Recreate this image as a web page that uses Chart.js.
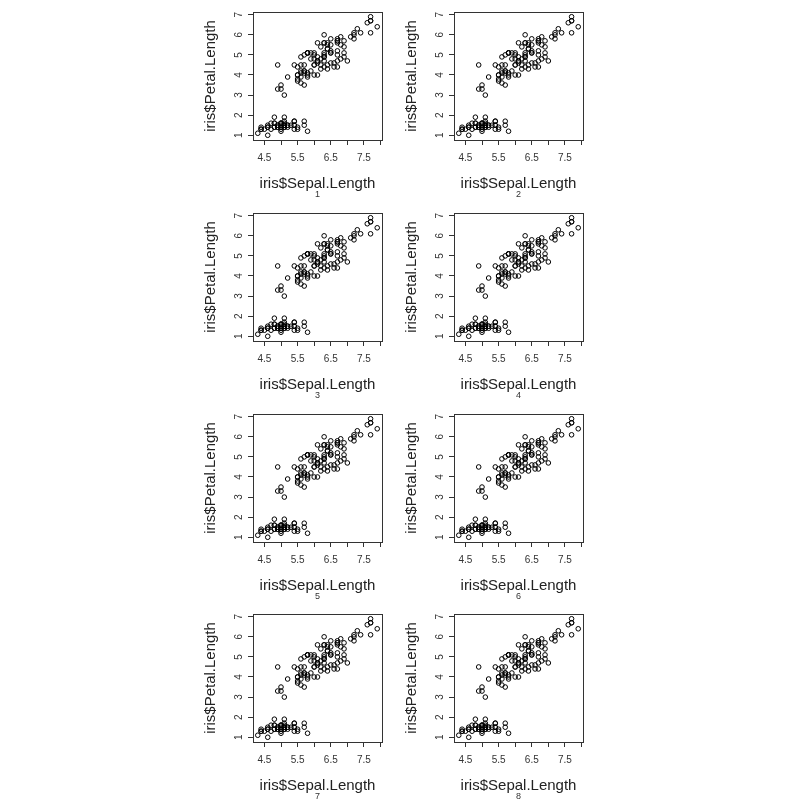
<!DOCTYPE html>
<html>
<head>
<meta charset="utf-8">
<script src="https://cdn.jsdelivr.net/npm/chart.js@4.4.1/dist/chart.umd.min.js"></script>
<style>
body { margin: 0; background: #fff; }
#wrap { position: relative; width: 800px; height: 803px; overflow: hidden; }
#wrap canvas { position: absolute; }
</style>
</head>
<body>
<div id="wrap"></div>
<script>
const sepalLength = [
  5.1,4.9,4.7,4.6,5.0,5.4,4.6,5.0,4.4,4.9,5.4,4.8,4.8,4.3,5.8,5.7,5.4,5.1,5.7,5.1,5.4,5.1,4.6,5.1,4.8,
  5.0,5.0,5.2,5.2,4.7,4.8,5.4,5.2,5.5,4.9,5.0,5.5,4.9,4.4,5.1,5.0,4.5,4.4,5.0,5.1,4.8,5.1,4.6,5.3,5.0,
  7.0,6.4,6.9,5.5,6.5,5.7,6.3,4.9,6.6,5.2,5.0,5.9,6.0,6.1,5.6,6.7,5.6,5.8,6.2,5.6,5.9,6.1,6.3,6.1,6.4,
  6.6,6.8,6.7,6.0,5.7,5.5,5.5,5.8,6.0,5.4,6.0,6.7,6.3,5.6,5.5,5.5,6.1,5.8,5.0,5.6,5.7,5.7,6.2,5.1,5.7,
  6.3,5.8,7.1,6.3,6.5,7.6,4.9,7.3,6.7,7.2,6.5,6.4,6.8,5.7,5.8,6.4,6.5,7.7,7.7,6.0,6.9,5.6,7.7,6.3,6.7,
  7.2,6.2,6.1,6.4,7.2,7.4,7.9,6.3,6.1,7.7,6.3,6.4,6.0,6.9,6.7,6.9,5.8,6.8,6.7,6.7,6.3,6.5,6.2,5.9,6.5
];
const petalLength = [
  1.4,1.4,1.3,1.5,1.4,1.7,1.4,1.5,1.4,1.5,1.5,1.6,1.4,1.1,1.2,1.5,1.3,1.4,1.7,1.5,1.7,1.5,1.0,1.7,1.9,
  1.6,1.6,1.5,1.4,1.6,1.6,1.5,1.5,1.4,1.5,1.2,1.3,1.4,1.3,1.5,1.3,1.3,1.3,1.6,1.9,1.4,1.6,1.4,1.5,1.4,
  4.7,4.5,4.9,4.0,4.6,4.5,4.7,3.3,4.6,3.9,3.5,4.2,4.0,4.7,3.6,4.4,4.5,4.1,4.5,3.9,4.8,4.0,4.9,4.7,4.3,
  4.4,4.8,5.0,4.5,3.5,3.8,3.7,3.9,5.1,4.5,4.5,4.7,4.4,4.1,4.0,4.4,4.6,4.0,3.3,4.2,4.2,4.2,4.3,3.0,4.1,
  6.0,5.1,5.9,5.6,5.8,6.6,4.5,6.3,5.8,6.1,5.1,5.3,5.5,5.0,5.1,5.3,5.5,6.7,6.9,5.0,5.7,4.9,6.7,4.9,5.7,
  6.0,4.8,4.9,5.6,5.8,6.1,6.4,5.1,5.6,6.1,5.6,5.5,4.8,5.4,5.6,5.1,5.1,5.9,5.7,5.2,5.0,5.2,5.4,5.1,5.1
];
const panelLabels = ['1','2','3','4','5','6','7','8'];
const xTicks = [4.5, 5, 5.5, 6, 6.5, 7, 7.5, 8];
const xTickLabels = ['4.5', '', '5.5', '', '6.5', '', '7.5', ''];
const yTicks = [1, 2, 3, 4, 5, 6, 7];
const xTitle = 'iris$Sepal.Length';
const yTitle = 'iris$Petal.Length';
const xLimits = [4.156, 8.044];
const yLimits = [0.764, 7.136];

Chart.defaults.font.family = '"Liberation Sans", Arial, sans-serif';
Chart.defaults.color = '#333';

const points = sepalLength.map((x, i) => ({ x: x, y: petalLength[i] }));

// box, rotated y labels and panel number, drawn the way R does
const rFrame = {
  id: 'rFrame',
  afterDraw(chart, args, opts) {
    const ctx = chart.ctx;
    const a = chart.chartArea;
    const ys = chart.scales.y;
    ctx.save();
    ctx.strokeStyle = '#333';
    ctx.lineWidth = 1;
    ctx.strokeRect(a.left + 0.5, a.top + 0.5, a.right - a.left, a.bottom - a.top);
    ctx.fillStyle = '#333';
    ctx.font = '10px "Liberation Sans", Arial, sans-serif';
    ctx.textAlign = 'center';
    ctx.textBaseline = 'middle';
    ys.ticks.forEach(t => {
      ctx.save();
      ctx.translate(a.left - 14, ys.getPixelForValue(t.value));
      ctx.rotate(-Math.PI / 2);
      ctx.fillText(String(t.value), 0, 0);
      ctx.restore();
    });
    ctx.font = '9px "Liberation Sans", Arial, sans-serif';
    ctx.fillText(opts.label, (a.left + a.right) / 2, a.bottom + 54.5);
    ctx.restore();
  }
};

const wrap = document.getElementById('wrap');
panelLabels.forEach((label, i) => {
  const col = i % 2;
  const row = Math.floor(i / 2);
  const cv = document.createElement('canvas');
  cv.width = 201;
  cv.height = 201;
  cv.style.left = (199 + col * 201) + 'px';
  cv.style.top = Math.round(row * 200.75) + 'px';
  wrap.appendChild(cv);

  new Chart(cv, {
    type: 'scatter',
    data: {
      datasets: [{
        data: points,
        pointStyle: 'circle',
        pointRadius: 2.3,
        pointBorderWidth: 1,
        borderColor: '#000',
        backgroundColor: 'rgba(0,0,0,0)'
      }]
    },
    options: {
      responsive: false,
      animation: false,
      events: [],
      layout: { padding: { left: 0, top: 12, right: 18, bottom: 0 } },
      plugins: {
        legend: { display: false },
        tooltip: { enabled: false },
        rFrame: { label: label }
      },
      scales: {
        x: {
          type: 'linear',
          min: xLimits[0],
          max: xLimits[1],
          afterBuildTicks: s => { s.ticks = xTicks.map(v => ({ value: v })); },
          afterFit: s => { s.height = 61; },
          border: { display: false },
          grid: { drawOnChartArea: false, drawTicks: true, tickLength: 5, color: '#333' },
          ticks: {
            autoSkip: false,
            maxRotation: 0,
            padding: 7.5,
            font: { size: 10 },
            color: '#333',
            callback: (v, idx) => xTickLabels[idx]
          },
          title: {
            display: true,
            text: xTitle,
            font: { size: 15 },
            color: '#222',
            padding: { top: 0, bottom: 8.5 }
          }
        },
        y: {
          type: 'linear',
          min: yLimits[0],
          max: yLimits[1],
          afterBuildTicks: s => { s.ticks = yTicks.map(v => ({ value: v })); },
          afterFit: s => { s.width = 54; },
          border: { display: false },
          grid: { drawOnChartArea: false, drawTicks: true, tickLength: 5, color: '#333' },
          ticks: { display: false },
          title: {
            display: true,
            text: yTitle,
            font: { size: 15 },
            color: '#222',
            padding: { top: 2.5, bottom: 0 }
          }
        }
      }
    },
    plugins: [rFrame]
  });
});
</script>
</body>
</html>
